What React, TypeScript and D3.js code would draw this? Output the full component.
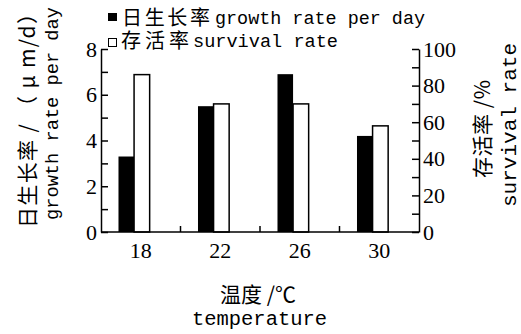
import { useEffect, useRef } from "react"
import * as d3 from "d3"

// temperature groups (°C)
const categories = ["18", "22", "26", "30"]
// 日生长率 growth rate per day (μm/d)
const growthRate = [3.3, 5.5, 6.9, 4.2]
// 存活率 survival rate (%)
const survivalRate = [86, 70, 70, 58]
const leftTicks = [0, 1, 2, 3, 4, 5, 6, 7, 8]
const rightTicks = [0, 10, 20, 30, 40, 50, 60, 70, 80, 90, 100]

const SERIF = "Liberation Serif, DejaVu Serif, serif"
const MONO = "Liberation Mono, DejaVu Sans Mono, monospace"
const CJK = "Noto Sans CJK SC, sans-serif"

export default function App() {
    const ref = useRef<HTMLDivElement>(null)

    useEffect(() => {
        d3.select(ref.current).selectAll("*").remove()
        buildGraph()
    }, [])

    function buildGraph({
        width = 521,
        height = 334,
        left = 101,
        right = 419,
        top = 49,
        bottom = 232,
    } = {}) {
        const x = d3.scaleBand<string>()
            .domain(categories)
            .range([left, right])
            .paddingInner(0)
            .paddingOuter(0)
        const bw = x.bandwidth()
        const barW = bw * 0.196
        const barOff = bw * 0.22

        const yL = d3.scaleLinear().domain([0, 8]).range([bottom, top])
        const yR = d3.scaleLinear().domain([0, 100]).range([bottom, top])

        const svg = d3.select(ref.current).append("svg")
            .attr("width", width)
            .attr("height", height)
            .attr("viewBox", [0, 0, width, height].join(" "))
            .attr("style", "position:absolute;left:0;top:0;background:#fff")

        // growth bars (black)
        svg.append("g")
            .selectAll("rect")
            .data(categories)
            .join("rect")
                .attr("fill", "#000")
                .attr("x", d => (x(d) as number) + barOff)
                .attr("y", (_, i) => yL(growthRate[i]))
                .attr("width", barW)
                .attr("height", (_, i) => yL(0) - yL(growthRate[i]))

        // survival bars (white, outlined)
        svg.append("g")
            .selectAll("rect")
            .data(categories)
            .join("rect")
                .attr("fill", "#fff")
                .attr("stroke", "#000")
                .attr("stroke-width", 1.5)
                .attr("x", d => (x(d) as number) + barOff + barW)
                .attr("y", (_, i) => yR(survivalRate[i]))
                .attr("width", barW)
                .attr("height", (_, i) => yR(0) - yR(survivalRate[i]))

        // left axis
        const gl = svg.append("g")
            .attr("transform", `translate(${left},0)`)
            .call(d3.axisLeft(yL)
                .tickValues(leftTicks)
                .tickSizeInner(-7)
                .tickSizeOuter(0)
                .tickPadding(4)
                .tickFormat(d => (+d % 2 === 0 ? String(d) : "")))
        gl.attr("font-family", null).attr("font-size", null)
        gl.selectAll("path,line").attr("stroke", "#000").attr("stroke-width", 1.5)
        gl.selectAll("text")
            .style("font-family", SERIF)
            .style("font-size", "22px")
            .attr("fill", "#000")

        // right axis
        const gr = svg.append("g")
            .attr("transform", `translate(${right},0)`)
            .call(d3.axisRight(yR)
                .tickValues(rightTicks)
                .tickSizeInner(-7)
                .tickSizeOuter(0)
                .tickPadding(4)
                .tickFormat(d => (+d % 20 === 0 ? String(d) : "")))
        gr.attr("font-family", null).attr("font-size", null)
        gr.selectAll("path,line").attr("stroke", "#000").attr("stroke-width", 1.5)
        gr.selectAll("text")
            .style("font-family", SERIF)
            .style("font-size", "22px")
            .attr("fill", "#000")

        // bottom axis line + ticks between groups
        svg.append("line")
            .attr("x1", left).attr("x2", right)
            .attr("y1", bottom).attr("y2", bottom)
            .attr("stroke", "#000").attr("stroke-width", 1.5)
        svg.append("g")
            .selectAll("line")
            .data(categories.slice(1))
            .join("line")
                .attr("x1", d => x(d) as number)
                .attr("x2", d => x(d) as number)
                .attr("y1", bottom)
                .attr("y2", bottom - 6)
                .attr("stroke", "#000").attr("stroke-width", 1.5)
        svg.append("g")
            .selectAll("text")
            .data(categories)
            .join("text")
                .style("font-family", SERIF)
                .style("font-size", "22px")
                .attr("text-anchor", "middle")
                .attr("x", d => (x(d) as number) + bw / 2)
                .attr("y", 258)
                .text(d => d)

        // legend
        const legend = svg.append("g")
        legend.append("rect")
            .attr("x", 108).attr("y", 13).attr("width", 9).attr("height", 8)
            .attr("fill", "#000")
        legend.append("rect")
            .attr("x", 108.5).attr("y", 38.5).attr("width", 8).attr("height", 8)
            .attr("fill", "#fff").attr("stroke", "#000").attr("stroke-width", 1)
        legend.append("text")
            .style("font-family", CJK).style("font-size", "20px")
            .attr("x", 122).attr("y", 25)
            .attr("textLength", 88).attr("lengthAdjust", "spacing")
            .text("日生长率")
        legend.append("text")
            .style("font-family", MONO).style("font-size", "19px")
            .attr("x", 215).attr("y", 24)
            .attr("textLength", 210).attr("lengthAdjust", "spacingAndGlyphs")
            .text("growth rate per day")
        legend.append("text")
            .style("font-family", CJK).style("font-size", "20px")
            .attr("x", 121).attr("y", 47.5)
            .attr("textLength", 68).attr("lengthAdjust", "spacing")
            .text("存活率")
        legend.append("text")
            .style("font-family", MONO).style("font-size", "19px")
            .attr("x", 193).attr("y", 47)
            .attr("textLength", 145).attr("lengthAdjust", "spacingAndGlyphs")
            .text("survival rate")

        // left titles
        svg.append("text")
            .attr("transform", "translate(34.5,115.5)rotate(-90)")
            .style("font-family", CJK).style("font-size", "21px")
            .attr("text-anchor", "middle")
            .attr("textLength", 225).attr("lengthAdjust", "spacing")
            .text("日生长率 / （ μ m/d）")
        svg.append("text")
            .attr("transform", "translate(58,113.5)rotate(-90)")
            .style("font-family", MONO).style("font-size", "19px")
            .attr("text-anchor", "middle")
            .attr("textLength", 213).attr("lengthAdjust", "spacingAndGlyphs")
            .text("growth rate per day")

        // right titles
        svg.append("text")
            .attr("transform", "translate(490,129)rotate(-90)")
            .style("font-family", CJK).style("font-size", "21px")
            .attr("text-anchor", "middle")
            .attr("textLength", 98).attr("lengthAdjust", "spacing")
            .text("存活率 /%")
        svg.append("text")
            .attr("transform", "translate(516,125)rotate(-90)")
            .style("font-family", MONO).style("font-size", "20px")
            .attr("text-anchor", "middle")
            .attr("textLength", 164).attr("lengthAdjust", "spacingAndGlyphs")
            .text("survival rate")

        // x titles
        svg.append("text")
            .style("font-family", CJK).style("font-size", "21px")
            .attr("text-anchor", "middle")
            .attr("x", 258).attr("y", 302)
            .text("温度 /℃")
        svg.append("text")
            .style("font-family", MONO).style("font-size", "20px")
            .attr("text-anchor", "middle")
            .attr("x", 259.5).attr("y", 325)
            .attr("textLength", 135).attr("lengthAdjust", "spacingAndGlyphs")
            .text("temperature")
    }

    return <div ref={ref}></div>
}
